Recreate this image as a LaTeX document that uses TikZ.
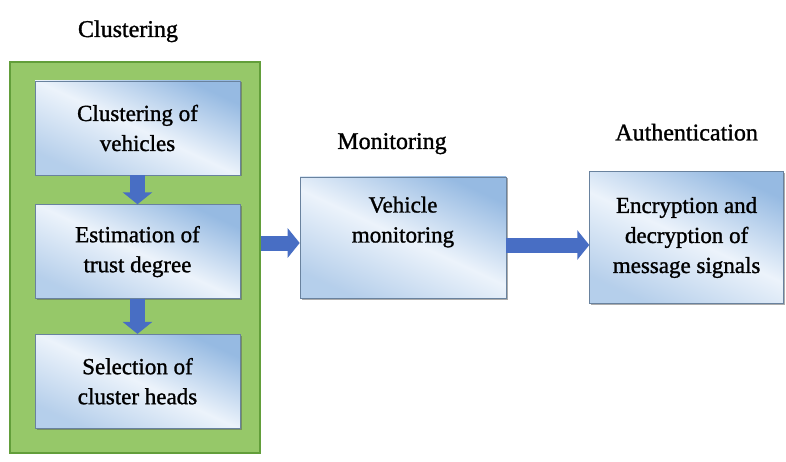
\documentclass[tikz,border=0pt]{standalone}
\usepackage{fontspec}
\setmainfont{Liberation Serif}
\newfontfamily\heavyserif[FakeBold=1.2]{Liberation Serif}
\usepackage{xcolor}
\usepackage{tikz}
\usetikzlibrary{arrows.meta,calc,backgrounds,positioning,fit,shadows}

\definecolor{boxdark}{RGB}{150,186,226}
\definecolor{boxlight}{RGB}{236,243,251}
\definecolor{clustgreen}{RGB}{150,200,105}
\definecolor{clustedge}{RGB}{98,158,58}
\definecolor{arrowblue}{RGB}{72,110,196}

\begin{document}
\begin{tikzpicture}[x=1pt,y=1pt,
        stagebox/.style={draw=boxdark!70!black,line width=0.6pt,
              top color=boxdark,bottom color=boxdark!70,middle color=boxlight,
              shading angle=-25,
              drop shadow={shadow xshift=1.5pt,shadow yshift=-1.5pt,fill=black!65},
              align=center,font=\heavyserif\fontsize{23}{30}\selectfont,
              minimum width=205pt,minimum height=94pt},
        title/.style={font=\heavyserif\fontsize{24}{28}\selectfont},
        blockarrow/.style={arrowblue,line width=15pt,
              -{Triangle[length=12pt,width=29pt]}}]
        \useasboundingbox (0,0) rectangle (786,461);

        % clustering column
        \node[stagebox] (cluster) at (137.5,333) {Clustering of\\vehicles};
        \node[stagebox,below=29pt of cluster] (trust) {Estimation of\\trust degree};
        \node[stagebox,below=35pt of trust] (heads) {Selection of\\cluster heads};
        \begin{scope}[on background layer]
            \node[fit={($(cluster.north west)+(-25pt,19pt)$) ($(heads.south east)+(20pt,-24pt)$)},
                  inner sep=0pt,fill=clustgreen,draw=clustedge,line width=2pt] (green) {};
        \end{scope}
        \node[title,above=15pt of green,xshift=-7pt] (t_cluster) {Clustering};
        \draw[blockarrow] (cluster.south) -- (trust.north);
        \draw[blockarrow] (trust.south) -- (heads.north);

        % monitoring
        \node[stagebox,minimum width=206pt,minimum height=121pt] (monitor) at (403,223.5) {Vehicle\\monitoring\\[6pt]};
        \node[title,above=19pt of monitor,xshift=-11pt] (t_monitor) {Monitoring};
        \draw[blockarrow] (green.east |- 0,218) -- (monitor.west |- 0,218);

        % authentication
        \node[stagebox,minimum width=194pt,minimum height=132pt,right=83pt of monitor] (auth) {Encryption and\\decryption of\\message signals};
        \node[title,above=27pt of auth] (t_auth) {Authentication};
        \draw[blockarrow] (monitor.east |- 0,216) -- (auth.west |- 0,216);
    \end{tikzpicture}
\end{document}
